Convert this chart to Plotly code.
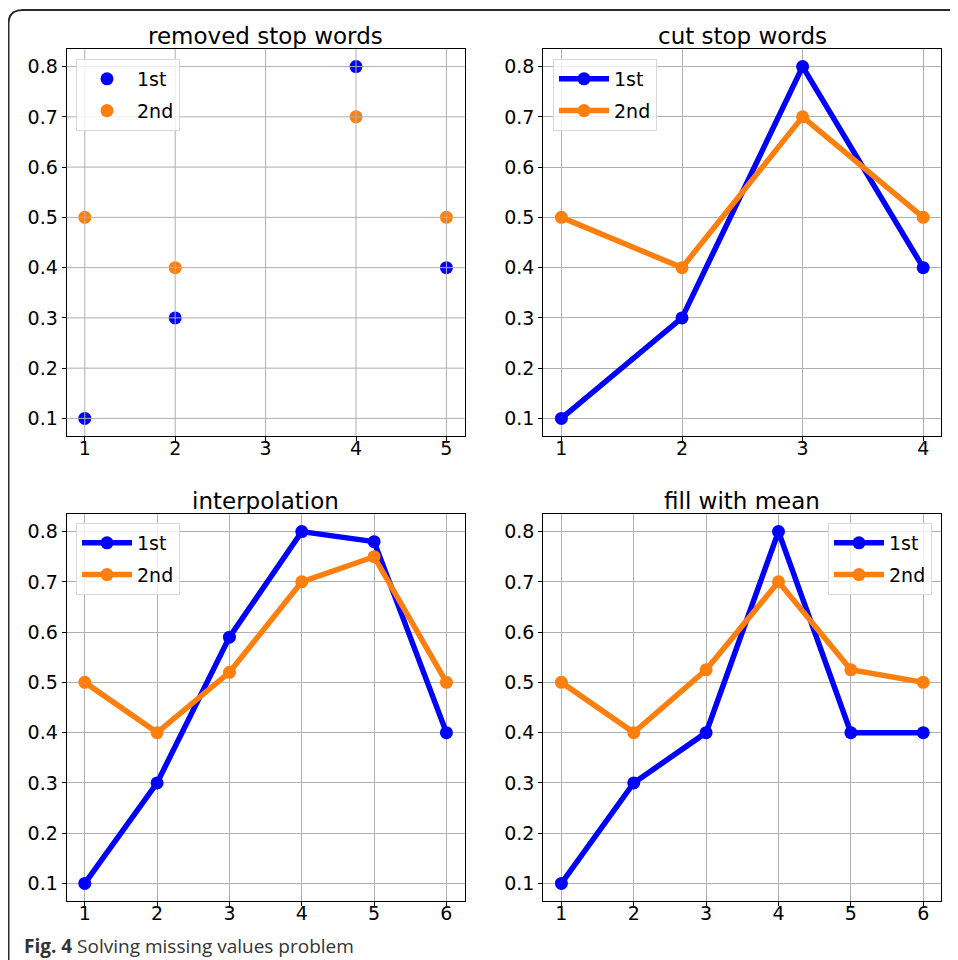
import plotly.graph_objects as go

# page body has an 8px margin, so the figure is 950x952 placed at (8, 8)
OFF = 8
W, H = 958 - OFF, 960 - OFF

# ---- data ----
x_removed = [1, 2, 4, 5]
first_removed = [0.1, 0.3, 0.8, 0.4]
second_removed = [0.5, 0.4, 0.7, 0.5]

x_cut = [1, 2, 3, 4]
first_cut = [0.1, 0.3, 0.8, 0.4]
second_cut = [0.5, 0.4, 0.7, 0.5]

x_full = [1, 2, 3, 4, 5, 6]
first_interp = [0.1, 0.3, 0.59, 0.8, 0.78, 0.4]
second_interp = [0.5, 0.4, 0.52, 0.7, 0.75, 0.5]

first_mean = [0.1, 0.3, 0.4, 0.8, 0.4, 0.4]
second_mean = [0.5, 0.4, 0.525, 0.7, 0.525, 0.5]

y_ticks = [0.1, 0.2, 0.3, 0.4, 0.5, 0.6, 0.7, 0.8]
titles = ["removed stop words", "cut stop words", "interpolation", "fill with mean"]
series_names = ["1st", "2nd"]

BLUE = "#0000ff"
ORANGE = "#ff7f0e"
FONT = "DejaVu Sans"


def px(x):
    return (x - OFF) / W


def py(y):
    return 1 - (y - OFF) / H


col_dom = [[px(66.7), px(464.5)], [px(543.3), px(941.3)]]
row_dom = [[py(436), py(49)], [py(901), py(514)]]

fig = go.Figure()

# subplot 1 scatter
fig.add_trace(go.Scatter(x=x_removed, y=first_removed, mode="markers", name=series_names[0],
                         marker=dict(color=BLUE, size=13), xaxis="x", yaxis="y",
                         legend="legend", legendgroup="a1"))
fig.add_trace(go.Scatter(x=x_removed, y=second_removed, mode="markers", name=series_names[1],
                         marker=dict(color=ORANGE, size=13), xaxis="x", yaxis="y",
                         legend="legend", legendgroup="b1"))

line_sets = [
    (x_cut, first_cut, second_cut, "x2", "y2", "legend2"),
    (x_full, first_interp, second_interp, "x3", "y3", "legend3"),
    (x_full, first_mean, second_mean, "x4", "y4", "legend4"),
]
for xs, a, b, xa, ya, lg in line_sets:
    fig.add_trace(go.Scatter(x=xs, y=a, mode="lines+markers", name=series_names[0],
                             line=dict(color=BLUE, width=5.5), marker=dict(color=BLUE, size=13),
                             xaxis=xa, yaxis=ya, legend=lg, legendgroup="a" + lg))
    fig.add_trace(go.Scatter(x=xs, y=b, mode="lines+markers", name=series_names[1],
                             line=dict(color=ORANGE, width=5.5), marker=dict(color=ORANGE, size=13),
                             xaxis=xa, yaxis=ya, legend=lg, legendgroup="b" + lg))

x_ranges = [[0.8, 5.2], [0.85, 4.15], [0.75, 6.25], [0.75, 6.25]]
x_tickvals = [[1, 2, 3, 4, 5], [1, 2, 3, 4], x_full, x_full]
positions = [(0, 0), (1, 0), (0, 1), (1, 1)]

axis_common = dict(showline=True, mirror=True, linecolor="black", linewidth=1.2,
                   ticks="outside", ticklen=4, tickcolor="black", tickwidth=1,
                   gridcolor="#b0b0b0", gridwidth=1, zeroline=False,
                   tickfont=dict(family=FONT, size=19, color="black"))

layout = {}
for i, (c, r) in enumerate(positions):
    n = "" if i == 0 else str(i + 1)
    layout["xaxis" + n] = dict(axis_common, domain=col_dom[c], range=x_ranges[i],
                               tickvals=x_tickvals[i], anchor="y" + n,
                               showgrid=(i != 0), ticklabelstandoff=-9)
    layout["yaxis" + n] = dict(axis_common, domain=row_dom[r], range=[0.065, 0.835],
                               tickvals=y_ticks, ticktext=[f"{v:.1f}" for v in y_ticks],
                               anchor="x" + n, showgrid=(i != 0))

legend_common = dict(bgcolor="rgba(255,255,255,0.8)", bordercolor="#d6d6d6", borderwidth=1,
                     font=dict(family=FONT, size=19, color="black"), yanchor="top",
                     traceorder="grouped", tracegroupgap=4, itemwidth=50)
layout["legend"] = dict(legend_common, x=px(76), y=py(59), xanchor="left")
layout["legend2"] = dict(legend_common, x=px(553), y=py(59), xanchor="left")
layout["legend3"] = dict(legend_common, x=px(76), y=py(523), xanchor="left")
layout["legend4"] = dict(legend_common, x=px(932), y=py(523), xanchor="right")

annotations = []
for i, (c, r) in enumerate(positions):
    cx = (col_dom[c][0] + col_dom[c][1]) / 2
    ty = 36 if r == 0 else 501
    annotations.append(dict(text=titles[i], x=cx, y=py(ty), xref="paper", yref="paper",
                            xanchor="center", yanchor="middle", showarrow=False,
                            font=dict(family=FONT, size=23, color="black")))
annotations.append(dict(text="<b>Fig. 4</b> Solving missing values problem",
                        x=px(22), y=py(946), xref="paper", yref="paper",
                        xanchor="left", yanchor="middle", showarrow=False,
                        font=dict(family="Open Sans", size=19, color="#333333")))

shapes = []
# grid on top of markers for the scatter subplot
for v in x_tickvals[0]:
    shapes.append(dict(type="line", xref="x", yref="y domain", x0=v, x1=v, y0=0, y1=1,
                       line=dict(color="#b0b0b0", width=1), layer="above"))
for v in y_ticks:
    shapes.append(dict(type="line", xref="x domain", yref="y", x0=0, x1=1, y0=v, y1=v,
                       line=dict(color="#b0b0b0", width=1), layer="above"))
# page frame with rounded left corners
path = (f"M {px(21)},{py(972)} Q {px(8.5)},{py(972)} {px(8.5)},{py(958)} "
        f"L {px(8.5)},{py(24)} Q {px(8.5)},{py(10)} {px(22.5)},{py(10)} L {px(970)},{py(10)}")
shapes.append(dict(type="path", xref="paper", yref="paper", path=path,
                   line=dict(color="#2a2a2a", width=2), layer="above"))

fig.update_layout(**layout)
fig.update_layout(width=W, height=H, margin=dict(l=0, r=0, t=0, b=0),
                  paper_bgcolor="white", plot_bgcolor="white",
                  annotations=annotations, shapes=shapes, showlegend=True)

fig.write_html("out.html")
